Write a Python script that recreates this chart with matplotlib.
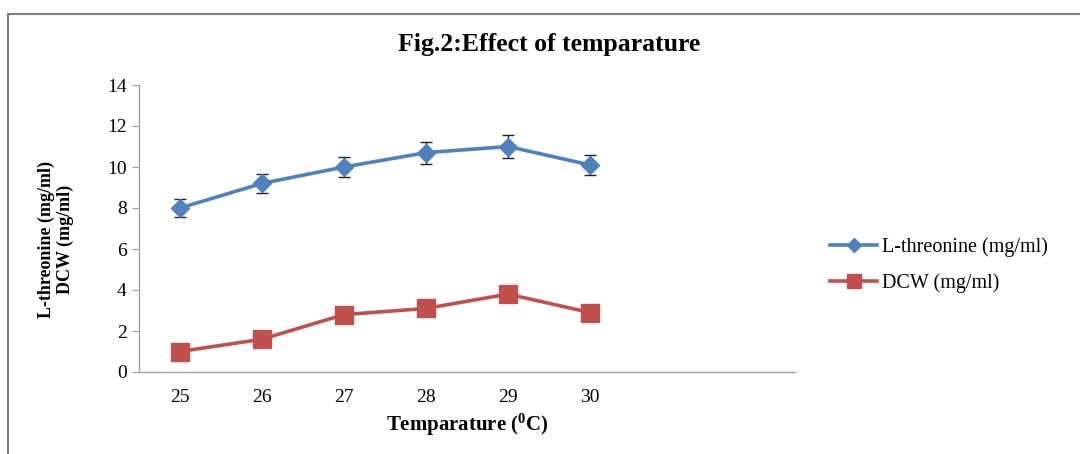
import numpy as np
import matplotlib
matplotlib.use('Agg')
import matplotlib.pyplot as plt
from matplotlib.patches import Rectangle
from matplotlib.lines import Line2D

plt.rcParams['font.family'] = ['Liberation Serif', 'DejaVu Serif']
plt.rcParams['mathtext.fontset'] = 'custom'
plt.rcParams['mathtext.rm'] = 'Liberation Serif:bold'

# Data
temps = ['25', '26', '27', '28', '29', '30']
threonine = [8.0, 9.2, 10.0, 10.7, 11.0, 10.1]
threonine_err = [0.42, 0.46, 0.49, 0.54, 0.55, 0.49]
dcw = [1.0, 1.6, 2.8, 3.1, 3.8, 2.9]

blue = '#4F81BD'
red = '#C0504D'

fig = plt.figure(figsize=(10.8, 4.54), dpi=100)

# outer chart frame
fig.patches.append(Rectangle((8 / 1080, -0.05), 1.2, 1 - 14 / 454 + 0.05,
                             transform=fig.transFigure, fill=False,
                             edgecolor='#7f7f7f', linewidth=1.5))

ax = fig.add_axes([139 / 1080, 1 - 372 / 454, (795 - 139) / 1080, (372 - 85) / 454])

x = np.arange(len(temps))
ax.errorbar(x, threonine, yerr=threonine_err, color=blue, linewidth=2.6,
            marker='D', markersize=9, ecolor='#222222', elinewidth=1,
            capsize=4.2, capthick=1, zorder=3)
ax.plot(x, dcw, color=red, linewidth=2.6, marker='s', markersize=13, zorder=3)

ax.set_xlim(-0.5, 7.5)
ax.set_ylim(0, 14)
ax.set_yticks(range(0, 15, 2))
ax.set_xticks(x)
ax.set_xticklabels(temps)

for s in ['top', 'right']:
    ax.spines[s].set_visible(False)
for s in ['left', 'bottom']:
    ax.spines[s].set_color('#a0a0a0')
    ax.spines[s].set_linewidth(1)

ax.tick_params(axis='y', length=5, color='#a0a0a0', labelsize=14, pad=4)
ax.tick_params(axis='x', length=0, labelsize=14, pad=12)

ax.set_xlabel(r'Temparature ($\mathregular{^0}$C)', fontsize=15,
              fontweight='bold', va='center')
ax.xaxis.set_label_coords(0.5, (372 - 425) / 287)
ax.set_ylabel('L-threonine (mg/ml)\nDCW (mg/ml)', fontsize=13,
              fontweight='bold', linespacing=1.1, va='center')
ax.yaxis.set_label_coords((56 - 139) / 656, (372 - 239) / 287)

fig.text(549 / 1080, 1 - 45 / 454, 'Fig.2:Effect of temparature',
         ha='center', va='center', fontsize=18.5, fontweight='bold')

handles = [Line2D([], [], color=blue, linewidth=2.6, marker='D', markersize=7.5),
           Line2D([], [], color=red, linewidth=2.6, marker='s', markersize=10)]
fig.legend(handles, ['L-threonine (mg/ml)', 'DCW (mg/ml)'],
           loc='center left', bbox_to_anchor=(812 / 1080, 1 - 265 / 454),
           frameon=False, fontsize=14.5, handlelength=2.35,
           handletextpad=0.25, labelspacing=0.8)

fig.savefig('out.png', dpi=100)
